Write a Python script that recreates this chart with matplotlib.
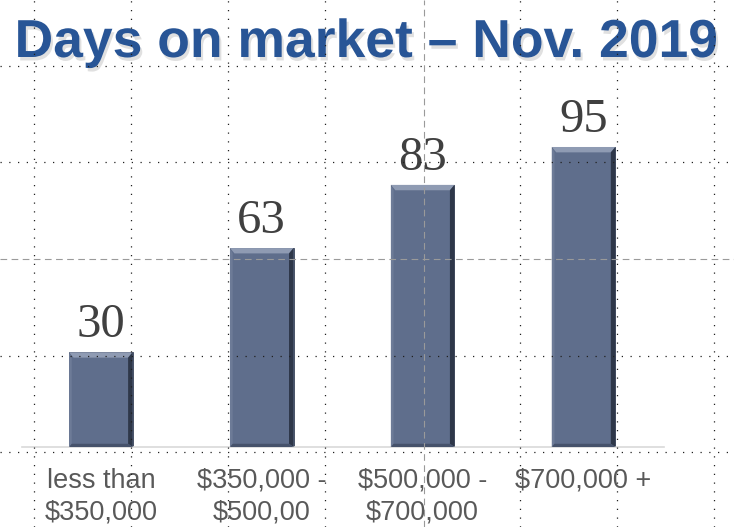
import matplotlib
matplotlib.use("Agg")
import matplotlib.pyplot as plt
from matplotlib.patches import Polygon
import matplotlib.patheffects as pe

plt.rcParams['text.parse_math'] = False

# ---- data ----
title = "Days on market – Nov. 2019"
categories = ["less than\n$350,000", "$350,000 -\n$500,00", "$500,000 -\n$700,000", "$700,000 +"]
days = [30, 63, 83, 95]

# slide guide positions (pixels of the 734x527 canvas)
guide_x = [34, 131, 228, 325, 520, 617, 714]
guide_y = [66, 162, 356, 452]
center_x = 424
center_y = 259

W, H = 734, 527
fig = plt.figure(figsize=(W / 100, H / 100), dpi=100)
fig.patch.set_facecolor("white")

ax = fig.add_axes([22 / W, 80 / H, 642 / W, 315.8 / H])
ax.set_facecolor("none")
ax.set_xlim(-0.49, 3.5)
ax.set_ylim(0, 100)
for s in ("top", "right", "left"):
    ax.spines[s].set_visible(False)
ax.spines["bottom"].set_color("#D9D9D9")
ax.spines["bottom"].set_linewidth(1.2)
ax.set_yticks([])

bar_w = 0.395
face = "#5F6E8C"
bars = ax.bar(range(len(days)), days, width=bar_w, color=face,
              edgecolor="#3A4459", linewidth=0.6, zorder=2)

# bevel effect on each bar
dx, dy = 0.028, 1.7
for b in bars:
    x0 = b.get_x()
    x1 = x0 + b.get_width()
    top = b.get_height()
    ax.add_patch(Polygon([(x0, top), (x1, top), (x1 - dx, top - dy), (x0 + dx, top - dy)],
                         closed=True, facecolor="#8F9BB3", edgecolor="none", zorder=3))
    ax.add_patch(Polygon([(x1, top), (x1, 0), (x1 - dx, dy * 0.6), (x1 - dx, top - dy)],
                         closed=True, facecolor="#2E3749", edgecolor="none", zorder=3))
    ax.add_patch(Polygon([(x0, top), (x0, 0), (x0 + dx * 0.6, dy * 0.6), (x0 + dx * 0.6, top - dy)],
                         closed=True, facecolor="#6D7B97", edgecolor="none", zorder=3))
    ax.add_patch(Polygon([(x0, 0), (x1, 0), (x1 - dx, dy * 0.6), (x0 + dx * 0.6, dy * 0.6)],
                         closed=True, facecolor="#46526B", edgecolor="none", zorder=3))

ax.bar_label(bars, labels=[str(v) for v in days], padding=3.5, fontsize=35,
             family=["Liberation Serif", "DejaVu Serif"], color="#404040")

ax.set_xticks(range(len(categories)))
ax.set_xticklabels(categories, fontsize=19.5, color="#595959",
                   family=["Liberation Sans", "DejaVu Sans"], linespacing=1.3)
ax.tick_params(axis="x", length=0, pad=15)

# title
fig.text(0.4995, (H - 57) / H, title, ha="center", va="baseline",
         fontsize=38.5, fontweight="bold", color="#285596",
         family=["Liberation Sans", "DejaVu Sans"],
         path_effects=[pe.SimplePatchShadow(offset=(1.5, -2.5), shadow_rgbFace="#9a9a9a", alpha=0.3),
                       pe.Normal()])

# slide guides overlay
gax = fig.add_axes([0, 0, 1, 1], zorder=10)
gax.set_xlim(0, W)
gax.set_ylim(H, 0)
gax.axis("off")
gax.patch.set_alpha(0)
for gx in guide_x:
    gax.axvline(gx, color="#202020", lw=0.9, dashes=(1, 6))
for gy in guide_y:
    gax.axhline(gy, color="#202020", lw=0.9, dashes=(1, 6))
gax.axvline(center_x, color="#9A9A9A", lw=0.8, dashes=(6, 4))
gax.axhline(center_y, color="#9A9A9A", lw=0.8, dashes=(6, 4))

fig.savefig("out.png", dpi=100)
